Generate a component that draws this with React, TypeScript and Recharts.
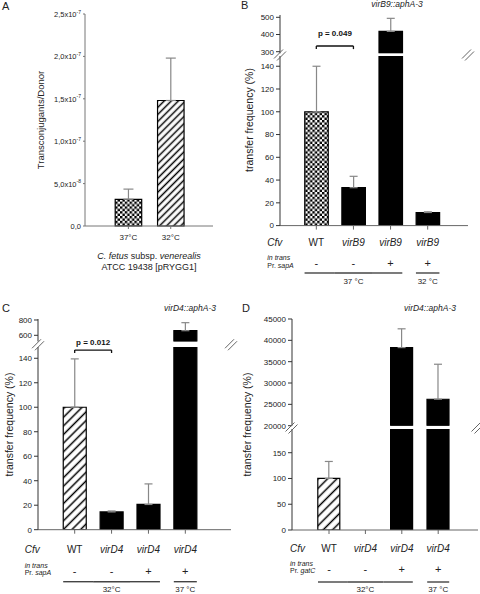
import React from 'react';
import { BarChart, Bar, XAxis, YAxis, ErrorBar, Cell, ReferenceLine } from 'recharts';

const FONT = '"Liberation Sans", Arial, Helvetica, sans-serif';

// ---- panel A
const catA = ['37°C', '32°C'];
const valA = [3.15e-8, 1.48e-7];
const errA = [1.2e-8, 5.0e-8];
const fillA = ['url(#checkA)', 'url(#hatchA)'];
const ticksA = [0, 5e-8, 1e-7, 1.5e-7, 2e-7, 2.5e-7];
const tickMantA = ['0,0', '5,0x10', '1,0x10', '1,5x10', '2,0x10', '2,5x10'];
const tickExpA = ['', '-8', '-7', '-7', '-7', '-7'];

// ---- panel B
const idsB = ['b0', 'b1', 'b2', 'b3'];
const nameB = ['WT', 'virB9', 'virB9', 'virB9'];
const signB = ['-', '-', '+', '+'];
const tempB = ['37 °C', '37 °C', '37 °C', '32 °C'];
const valB = [100, 33.3, 418, 11.5];
const errB = [40, 10, 76, 0.6];
const fillB = ['url(#checkB)', '#000', '#000', '#000'];
const upTicksB = [300, 400, 500];
const lowTicksB = [0, 20, 40, 60, 80, 100, 120, 140];

// ---- panel C
const idsC = ['c0', 'c1', 'c2', 'c3'];
const nameC = ['WT', 'virD4', 'virD4', 'virD4'];
const signC = ['-', '-', '+', '+'];
const tempC = ['32°C', '32°C', '32°C', '37 °C'];
const valC = [100, 14.5, 20.6, 660];
const errC = [39.5, 0.8, 16.8, 105];
const fillC = ['url(#hatchC)', '#000', '#000', '#000'];
const upTicksC = [600, 800];
const lowTicksC = [0, 20, 40, 60, 80, 100, 120, 140];

// ---- panel D
const idsD = ['d0', 'd1', 'd2', 'd3'];
const nameD = ['WT', 'virD4', 'virD4', 'virD4'];
const signD = ['-', '-', '+', '+'];
const tempD = ['32°C', '32°C', '32°C', '37 °C'];
const valD = [100, 0, 38300, 26200];
const errD = [33, 0, 4400, 8200];
const fillD = ['url(#hatchD)', '#000', '#000', '#000'];
const upTicksD = [20000, 25000, 30000, 35000, 40000, 45000];
const lowTicksD = [0, 50, 100, 150];

type Geo = {
  left: number; right: number; top: number; upBottom: number; lowTop: number; axisY: number; xh: number;
  yw: number; upDomain: [number, number]; lowDomain: [number, number];
  padL: number; padR: number; barSize: number; rows: number[]; labelDx: number;
};

const geoB: Geo = {
  left: 280, right: 468, top: 15, upBottom: 53.3, lowTop: 55.7, axisY: 225.3, xh: 64.7, yw: 30,
  upDomain: [290.7, 513.4], lowDomain: [0, 149], padL: 17.75, padR: 21.75, barSize: 23.5,
  rows: [20, 34, 42.7, 41.5, 47.4, 58.7], labelDx: -49,
};
const geoC: Geo = {
  left: 38, right: 231, top: 319, upBottom: 341.5, lowTop: 347, axisY: 529.7, xh: 64.3, yw: 30,
  upDomain: [519, 813], lowDomain: [0, 149.2], padL: 18.25, padR: 27.25, barSize: 23,
  rows: [22.8, 38, 45, 44.8, 52, 62.5], labelDx: -50,
};
const geoD: Geo = {
  left: 291.5, right: 477.5, top: 319.3, upBottom: 426, lowTop: 429, axisY: 530, xh: 64, yw: 42,
  upDomain: [20000, 45000], lowDomain: [0, 196], padL: 18.8, padR: 21.6, barSize: 22,
  rows: [21.5, 35.5, 43, 42.5, 52, 62], labelDx: -39,
};

const Patterns = ({ id, kind, size }: { id: string; kind: 'check' | 'hatch'; size: number }) =>
  kind === 'check' ? (
    <pattern id={id} width={size * 2} height={size * 2} patternUnits="userSpaceOnUse">
      <rect width={size * 2} height={size * 2} fill="#fff" />
      <rect width={size} height={size} fill="#000" />
      <rect x={size} y={size} width={size} height={size} fill="#000" />
    </pattern>
  ) : (
    <pattern id={id} width={size} height={size} patternUnits="userSpaceOnUse" patternTransform="rotate(45)">
      <rect width={size} height={size} fill="#fff" />
      <line x1={size / 2} y1={0} x2={size / 2} y2={size} stroke="#000" strokeWidth={1.5} />
    </pattern>
  );

function CatTick(props: any) {
  const { x, y, index, info } = props;
  const { names, signs, temps, promoter, rows, labelDx, step, barW } = info;
  const y0 = y - 4;
  const n = names.length;
  const prevSame = index > 0 && temps[index - 1] === temps[index];
  const nextSame = index < n - 1 && temps[index + 1] === temps[index];
  const x1 = prevSame ? x - step / 2 : x - barW / 2;
  const x2 = nextSame ? x + step / 2 : x + barW / 2;
  let last = index;
  while (last < n - 1 && temps[last + 1] === temps[index]) last++;
  const t = { fontFamily: FONT, fill: '#222' };
  return (
    <g>
      <text x={x} y={y0 + rows[0]} textAnchor="middle" fontSize={10} fontStyle={names[index] === 'WT' ? 'normal' : 'italic'} {...t}>
        {names[index]}
      </text>
      <text x={x} y={y0 + rows[3]} textAnchor="middle" fontSize={11} {...t}>{signs[index]}</text>
      <line x1={x1} x2={x2} y1={y0 + rows[4]} y2={y0 + rows[4]} stroke="#444" strokeWidth={1.4} />
      {!prevSame && (
        <text x={x + ((last - index) * step) / 2} y={y0 + rows[5]} textAnchor="middle" fontSize={8} {...t}>
          {temps[index]}
        </text>
      )}
      {index === 0 && (
        <g>
          <text x={x + labelDx} y={y0 + rows[0]} fontSize={10} fontStyle="italic" {...t}>Cfv</text>
          <text x={x + labelDx} y={y0 + rows[1]} fontSize={7} fontStyle="italic" {...t}>in trans</text>
          <text x={x + labelDx} y={y0 + rows[2]} fontSize={7} {...t}>
            Pr. <tspan fontStyle="italic">{promoter}</tspan>
          </text>
        </g>
      )}
    </g>
  );
}

type PanelProps = {
  g: Geo; ids: string[]; names: string[]; signs: string[]; temps: string[];
  vals: number[]; errs: number[]; fills: string[]; upTicks: number[]; lowTicks: number[];
  promoter: string; defs: React.ReactNode;
  p?: { text: string; y: number; y2: number; off: number; upper: boolean };
};

function BrokenPanel({ g, ids, names, signs, temps, vals, errs, fills, upTicks, lowTicks, promoter, defs, p }: PanelProps) {
  // the upper segment only gets the bars that reach into it
  const upData = ids.map((id, i) => {
    const inUp = vals[i] > g.upDomain[0];
    return { id, v: inUp ? vals[i] : null, e: [0, inUp ? errs[i] : 0], fill: fills[i] };
  });
  const lowData = ids.map((id, i) => {
    const inLow = vals[i] + errs[i] < g.lowDomain[1];
    return { id, v: vals[i], e: [0, inLow ? errs[i] : 0], fill: fills[i] };
  });
  const width = g.right - g.left + g.yw + 6;
  const step = (g.right - g.left - g.padL - g.padR) / ids.length;
  const info = { names, signs, temps, promoter, rows: g.rows, labelDx: g.labelDx, step, barW: g.barSize };
  const yTick = { fontSize: 8, fill: '#222', fontFamily: FONT };
  const bracket = (on: boolean) =>
    p && on
      ? [
          <ReferenceLine key="h" yAxisId="l" ifOverflow="visible" segment={[{ x: ids[0], y: p.y }, { x: ids[1], y: p.y }]}
            stroke="#111" strokeWidth={1.3}
            label={{ value: p.text, position: 'top', offset: p.off, fontSize: 8, fontWeight: 700, fill: '#111', fontFamily: FONT }} />,
          <ReferenceLine key="l" yAxisId="l" ifOverflow="visible" segment={[{ x: ids[0], y: p.y }, { x: ids[0], y: p.y2 }]} stroke="#111" strokeWidth={1.3} />,
          <ReferenceLine key="r" yAxisId="l" ifOverflow="visible" segment={[{ x: ids[1], y: p.y }, { x: ids[1], y: p.y2 }]} stroke="#111" strokeWidth={1.3} />,
        ]
      : null;
  const bars = (data: any[]) => (
    <Bar yAxisId="l" dataKey="v" barSize={g.barSize} stroke="#000" strokeWidth={1.2} isAnimationActive={false}>
      {data.map((d, i) => <Cell key={i} fill={d.fill} />)}
      <ErrorBar dataKey="e" width={4} stroke="#888" strokeWidth={1.2} direction="y" />
    </Bar>
  );
  return (
    <>
      <div style={{ position: 'absolute', left: g.left - g.yw, top: g.top - 8 }}>
        <BarChart width={width} height={g.upBottom - g.top + 16} data={upData} margin={{ top: 8, right: 6, bottom: 8, left: 0 }}>
          <defs>{defs}</defs>
          <XAxis dataKey="id" type="category" orientation="top" height={0} tick={false} tickLine={false}
            axisLine={{ stroke: '#999', strokeWidth: 1.3 }} padding={{ left: g.padL, right: g.padR }} />
          <YAxis yAxisId="l" domain={g.upDomain} ticks={upTicks} allowDataOverflow width={g.yw} interval={0}
            tick={yTick} tickSize={4} tickMargin={2} axisLine={{ stroke: '#333' }} tickLine={{ stroke: '#333' }} />
          <YAxis yAxisId="r" orientation="right" domain={g.upDomain} allowDataOverflow width={0} tick={false}
            tickLine={false} axisLine={{ stroke: '#999', strokeWidth: 1.3 }} />
          {bars(upData)}
          {bracket(p ? p.upper : false)}
        </BarChart>
      </div>
      <div style={{ position: 'absolute', left: g.left - g.yw, top: g.lowTop - 8 }}>
        <BarChart width={width} height={g.axisY - g.lowTop + 8 + g.xh} data={lowData} margin={{ top: 8, right: 6, bottom: 0, left: 0 }}>
          <defs>{defs}</defs>
          <XAxis dataKey="id" type="category" height={g.xh} padding={{ left: g.padL, right: g.padR }} interval={0}
            tickSize={4} tickMargin={0} axisLine={{ stroke: '#666' }} tickLine={{ stroke: '#666' }}
            tick={(tp: any) => <CatTick {...tp} info={info} />} />
          <YAxis yAxisId="l" domain={g.lowDomain} ticks={lowTicks} allowDataOverflow width={g.yw} interval={0}
            tick={yTick} tickSize={4} tickMargin={2} axisLine={{ stroke: '#333' }} tickLine={{ stroke: '#333' }} />
          <YAxis yAxisId="r" orientation="right" domain={g.lowDomain} allowDataOverflow width={0} tick={false}
            tickLine={false} axisLine={{ stroke: '#999', strokeWidth: 1.3 }} />
          {bars(lowData)}
          {bracket(p ? !p.upper : false)}
        </BarChart>
      </div>
    </>
  );
}

function ATick(props: any) {
  const { x, y, payload } = props;
  const i = ticksA.findIndex((t) => Math.abs(t - payload.value) < 1e-12);
  return (
    <text x={x} y={y + 3} textAnchor="end" fontSize={7.5} fontFamily={FONT} fill="#222">
      {tickMantA[i]}
      <tspan dy={-3.5} fontSize={5}>{tickExpA[i]}</tspan>
    </text>
  );
}

function PanelA() {
  const data = catA.map((c, i) => ({ cat: c, v: valA[i], e: [0, errA[i]], fill: fillA[i] }));
  return (
    <div style={{ position: 'absolute', left: 0, top: 0 }}>
      <BarChart width={219} height={250} data={data} margin={{ top: 14, right: 6, bottom: 0, left: 0 }}>
        <defs>
          <Patterns id="checkA" kind="check" size={2.4} />
          <Patterns id="hatchA" kind="hatch" size={5} />
        </defs>
        <XAxis dataKey="cat" height={24} padding={{ left: 22.2, right: 21.1 }} tickSize={3} tickMargin={0} interval={0}
          axisLine={{ stroke: '#777' }} tickLine={{ stroke: '#777' }}
          tick={(tp: any) => (
            <text x={tp.x} y={tp.y + 11} textAnchor="middle" fontSize={8} fontFamily={FONT} fill="#222">{tp.payload.value}</text>
          )} />
        <XAxis xAxisId="top" orientation="top" dataKey="cat" height={0} tick={false} tickLine={false} axisLine={{ stroke: '#888' }} />
        <YAxis yAxisId="l" domain={[0, 2.5e-7]} ticks={ticksA} width={85} interval={0} tickSize={2} tickMargin={2}
          axisLine={{ stroke: '#777' }} tickLine={{ stroke: '#777' }} tick={(tp: any) => <ATick {...tp} />} />
        <YAxis yAxisId="r" orientation="right" domain={[0, 2.5e-7]} width={0} tick={false} tickLine={false} axisLine={{ stroke: '#888' }} />
        <Bar yAxisId="l" dataKey="v" barSize={26.5} stroke="#000" strokeWidth={1.2} isAnimationActive={false}>
          {data.map((d, i) => <Cell key={i} fill={d.fill} />)}
          <ErrorBar dataKey="e" width={5} stroke="#888" strokeWidth={1.2} direction="y" />
        </Bar>
      </BarChart>
    </div>
  );
}

function BreakMark({ x, y }: { x: number; y: number }) {
  return (
    <g stroke="#666" strokeWidth={1}>
      <line x1={x - 6} y1={y + 4} x2={x + 3} y2={y - 5} />
      <line x1={x - 3} y1={y + 6} x2={x + 6} y2={y - 3} />
    </g>
  );
}

function Overlay() {
  const t = { fontFamily: FONT, fill: '#222' };
  const marks = [geoB, geoC, geoD].flatMap((g, i) => {
    const y = (g.upBottom + g.lowTop) / 2;
    return [<BreakMark key={'l' + i} x={g.left} y={y} />, <BreakMark key={'r' + i} x={g.right} y={y} />];
  });
  return (
    <svg width={480} height={594} style={{ position: 'absolute', left: 0, top: 0, pointerEvents: 'none' }}>
      <text x={2} y={10} fontSize={11} {...t}>A</text>
      <text x={241} y={9} fontSize={11} {...t}>B</text>
      <text x={2} y={311.5} fontSize={11} {...t}>C</text>
      <text x={242} y={311.5} fontSize={11} {...t}>D</text>
      <text x={397} y={6.5} fontSize={8.5} fontStyle="italic" textAnchor="middle" {...t}>virB9::aphA-3</text>
      <text x={190} y={311} fontSize={8.5} fontStyle="italic" textAnchor="middle" {...t}>virD4::aphA-3</text>
      <text x={430} y={311} fontSize={8.5} fontStyle="italic" textAnchor="middle" {...t}>virD4::aphA-3</text>
      <text transform="translate(44,120) rotate(-90)" fontSize={9.5} textAnchor="middle" {...t}>Transconjugants/Donor</text>
      <text transform="translate(253,120) rotate(-90)" fontSize={10.5} textAnchor="middle" {...t}>transfer frequency (%)</text>
      <text transform="translate(13,424.5) rotate(-90)" fontSize={10.5} textAnchor="middle" {...t}>transfer frequency (%)</text>
      <text transform="translate(251,424.5) rotate(-90)" fontSize={10.5} textAnchor="middle" {...t}>transfer frequency (%)</text>
      <text x={149} y={259} fontSize={9} textAnchor="middle" {...t}>
        <tspan fontStyle="italic">C. fetus</tspan> subsp. <tspan fontStyle="italic">venerealis</tspan>
      </text>
      <text x={149} y={270} fontSize={9} textAnchor="middle" {...t}>ATCC 19438 [pRYGG1]</text>
      {marks}
    </svg>
  );
}

export default function App() {
  return (
    <div style={{ position: 'absolute', left: 0, top: 0, width: 480, height: 594, background: '#fff', overflow: 'hidden' }}>
      <PanelA />
      <BrokenPanel g={geoB} ids={idsB} names={nameB} signs={signB} temps={tempB} vals={valB} errs={errB} fills={fillB}
        upTicks={upTicksB} lowTicks={lowTicksB} promoter="sapA"
        defs={<Patterns id="checkB" kind="check" size={2.4} />}
        p={{ text: 'p = 0.049', y: 333, y2: 315, off: 10, upper: true }} />
      <BrokenPanel g={geoC} ids={idsC} names={nameC} signs={signC} temps={tempC} vals={valC} errs={errC} fills={fillC}
        upTicks={upTicksC} lowTicks={lowTicksC} promoter="sapA"
        defs={<Patterns id="hatchC" kind="hatch" size={6.1} />}
        p={{ text: 'p = 0.012', y: 146.7, y2: 144.3, off: 5.5, upper: false }} />
      <BrokenPanel g={geoD} ids={idsD} names={nameD} signs={signD} temps={tempD} vals={valD} errs={errD} fills={fillD}
        upTicks={upTicksD} lowTicks={lowTicksD} promoter="gatC"
        defs={<Patterns id="hatchD" kind="hatch" size={6.6} />} />
      <Overlay />
    </div>
  );
}
